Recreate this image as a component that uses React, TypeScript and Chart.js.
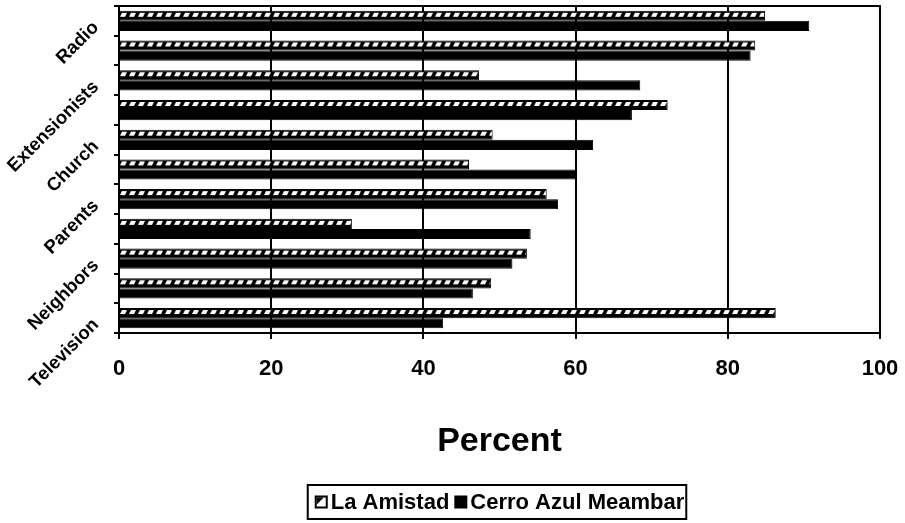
import React, { useEffect, useRef } from 'react';
import { Chart, registerables } from 'chart.js';

Chart.register(...registerables);

// Categories listed top to bottom (every other label is hidden in the reference)
const categories = ['Radio', '', 'Extensionists', '', 'Church', '', 'Parents', '', 'Neighbors', '', 'Television'];
const seriesNames = ['La Amistad', 'Cerro Azul Meambar'];
const laAmistad = [84.9, 83.6, 47.3, 72.1, 49.1, 46.0, 56.2, 30.6, 53.6, 48.9, 86.3];
const cerroAzul = [90.7, 83.0, 68.5, 67.4, 62.3, 60.2, 57.7, 54.1, 51.7, 46.5, 42.6];
const xTickValues = [0, 20, 40, 60, 80, 100];
const axisTitle = 'Percent';

const CAT_PCT = 0.68;
const FONT = '"Liberation Sans", Arial, sans-serif';

function makeTile(): HTMLCanvasElement {
  const t = document.createElement('canvas');
  t.width = 9;
  t.height = 40;
  const c = t.getContext('2d')!;
  c.fillStyle = '#000';
  c.fillRect(0, 0, 9, 40);
  c.fillStyle = '#fff';
  c.beginPath();
  c.moveTo(3, 2);
  c.lineTo(8, 2);
  c.lineTo(6, 6);
  c.lineTo(1, 6);
  c.closePath();
  c.fill();
  return t;
}

export default function App() {
  const ref = useRef<HTMLCanvasElement>(null);

  useEffect(() => {
    document.body.style.margin = '0';
    const canvas = ref.current!;
    const tile = makeTile();

    const hatch = (ctx: any) => {
      const chart = ctx.chart;
      const ys = chart.scales && chart.scales.y;
      if (ctx.type !== 'data' || !ys) return '#000';
      const w = (ys.bottom - ys.top) / categories.length;
      const center = ys.getPixelForValue(ctx.dataIndex);
      const top = center - (w * CAT_PCT) / 2;
      const p = chart.ctx.createPattern(tile, 'repeat');
      if (!p) return '#000';
      p.setTransform(new DOMMatrix([1, 0, 0, 1, chart.chartArea ? chart.chartArea.left : 0, top]));
      return p;
    };

    const framePlugin = {
      id: 'frame',
      afterDatasetsDraw(chart: any) {
        const { ctx, chartArea: a } = chart;
        ctx.save();
        ctx.strokeStyle = '#000';
        ctx.lineWidth = 2;
        ctx.strokeRect(a.left, a.top, a.right - a.left, a.bottom - a.top);
        ctx.restore();
      },
    };

    const legendPlugin = {
      id: 'boxLegend',
      afterDraw(chart: any) {
        const ctx = chart.ctx;
        const a = chart.chartArea;
        ctx.save();
        ctx.font = `bold 22px ${FONT}`;
        ctx.textBaseline = 'middle';
        ctx.textAlign = 'left';
        const sw = 13;
        const gap = 3;
        const between = 5;
        const labels: string[] = chart.data.datasets.map((d: any) => d.label);
        const widths = labels.map((l) => ctx.measureText(l).width);
        const total = widths.reduce((s, w) => s + sw + gap + w, 0) + between * (labels.length - 1);
        const cx = (a.left + a.right) / 2;
        const cy = chart.height - 21;
        let x = cx - total / 2;
        ctx.strokeStyle = '#000';
        ctx.lineWidth = 2;
        ctx.strokeRect(x - 7, chart.height - 38, total + 9, 34);
        labels.forEach((l, i) => {
          const y0 = cy - sw / 2;
          ctx.fillStyle = '#000';
          ctx.fillRect(x, y0, sw, sw);
          if (i === 0) {
            ctx.fillStyle = '#fff';
            ctx.fillRect(x + 2, y0 + 2, sw - 4, sw - 4);
            ctx.fillStyle = '#000';
            ctx.beginPath();
            ctx.moveTo(x + 2, y0 + 2);
            ctx.lineTo(x + sw - 4, y0 + 2);
            ctx.lineTo(x + 2, y0 + sw - 4);
            ctx.closePath();
            ctx.fill();
          }
          ctx.fillStyle = '#000';
          ctx.fillText(l, x + sw + gap, cy + 1);
          x += sw + gap + widths[i] + between;
        });
        ctx.restore();
      },
    };

    const chart = new Chart(canvas, {
      type: 'bar',
      data: {
        labels: categories,
        datasets: [
          {
            label: seriesNames[0],
            data: laAmistad,
            backgroundColor: hatch as any,
            borderColor: '#000',
            borderWidth: 1,
            categoryPercentage: CAT_PCT,
            barPercentage: 1,
          },
          {
            label: seriesNames[1],
            data: cerroAzul,
            backgroundColor: '#000',
            borderColor: '#000',
            borderWidth: 1,
            categoryPercentage: CAT_PCT,
            barPercentage: 1,
          },
        ],
      },
      options: {
        indexAxis: 'y',
        responsive: false,
        animation: false,
        layout: { padding: { left: 0, right: 25, top: 6, bottom: 61 } },
        plugins: {
          legend: { display: false },
          tooltip: { enabled: false },
        },
        scales: {
          x: {
            min: 0,
            max: 100,
            afterBuildTicks: (scale: any) => {
              scale.ticks = xTickValues.map((v) => ({ value: v }));
            },
            afterFit: (scale: any) => {
              scale.height = 129;
              scale.paddingLeft = 0;
              scale.paddingRight = 0;
            },
            ticks: {
              color: '#000',
              font: { family: FONT, size: 22, weight: 'bold' },
              padding: 17,
            },
            grid: { color: '#000', lineWidth: 2, tickLength: 6, drawTicks: true },
            border: { display: true, color: '#000', width: 2 },
            title: {
              display: true,
              text: axisTitle,
              color: '#000',
              font: { family: FONT, size: 34, weight: 'bold' },
              padding: { top: 0, bottom: 0 },
            },
          },
          y: {
            afterFit: (scale: any) => {
              scale.width = 119;
              scale.paddingTop = 0;
              scale.paddingBottom = 0;
            },
            ticks: {
              autoSkip: false,
              minRotation: 45,
              maxRotation: 45,
              color: '#000',
              font: { family: FONT, size: 18.5, weight: 'bold', lineHeight: '11px' },
              padding: 22,
              callback: (_v: any, i: number) => ['', categories[i]],
            },
            grid: {
              offset: true,
              drawOnChartArea: false,
              drawTicks: true,
              tickLength: 5,
              color: '#000',
              lineWidth: 2,
            },
            border: { display: true, color: '#000', width: 2 },
          },
        },
      } as any,
      plugins: [framePlugin, legendPlugin],
    });

    return () => chart.destroy();
  }, []);

  return (
    <div style={{ width: 905, height: 523 }}>
      <canvas ref={ref} width={905} height={523} style={{ display: 'block' }} />
    </div>
  );
}
